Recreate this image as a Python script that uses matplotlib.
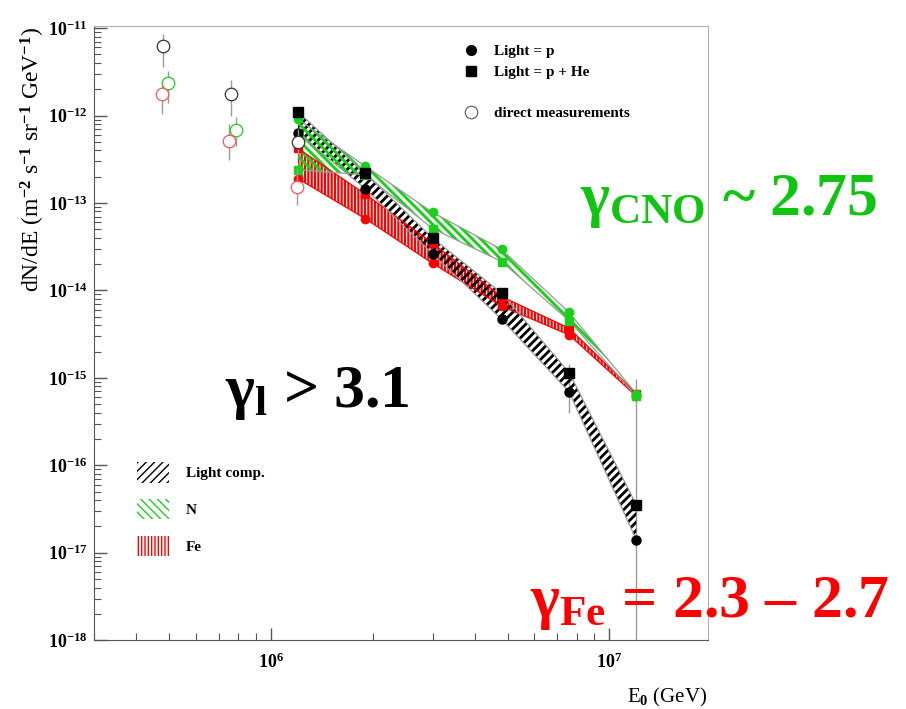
import matplotlib
matplotlib.use('Agg')
import matplotlib.pyplot as plt
from matplotlib.lines import Line2D
from matplotlib.patches import Patch
from matplotlib.ticker import FixedLocator, LogLocator, NullFormatter, FuncFormatter
import numpy as np

plt.rcParams.update({
    'font.family': 'Liberation Serif',
    'font.weight': 'bold',
    'mathtext.fontset': 'custom',
    'mathtext.rm': 'Liberation Serif:bold',
    'mathtext.it': 'Liberation Serif:bold',
    'mathtext.bf': 'Liberation Serif:bold',
})

# KASCADE unfolding results (GeV, m^-2 s^-1 sr^-1 GeV^-1)
energy = [1.2e6, 1.9e6, 3.0e6, 4.8e6, 7.6e6, 1.2e7]
light_pHe = [1.10e-12, 2.19e-13, 3.98e-14, 9.3e-15, 1.15e-15, 3.55e-17]
light_p = [6.3e-13, 1.45e-13, 2.63e-14, 4.68e-15, 6.9e-16, 1.41e-17]
n_upper = [9.1e-13, 2.63e-13, 7.8e-14, 2.95e-14, 5.6e-15, 6.6e-16]
n_lower = [2.4e-13, 2.09e-13, 5.1e-14, 2.14e-14, 4.5e-15, 6.2e-16]
fe_upper = [4.2e-13, 1.26e-13, 3.47e-14, 8.5e-15, 3.7e-15, 6.6e-16]
fe_lower = [1.9e-13, 6.6e-14, 2.04e-14, 6.6e-15, 3.1e-15, 6.2e-16]

# error bars on the light component at the highest energies
light_bar_e = [7.6e6, 1.2e7]
light_bar_hi = [1.45e-15, 9.8e-16]
light_bar_lo = [4.0e-16, 1e-19]

# direct measurements
direct_light_e = [4.8e5, 7.6e5, 1.2e6]
direct_light = [6.25e-12, 1.77e-12, 5.0e-13]
direct_light_lo = [3.6e-12, 1.0e-12, 3.6e-13]
direct_light_hi = [8.6e-12, 2.56e-12, 7.0e-13]
direct_n_e = [4.95e5, 7.85e5]
direct_n = [2.37e-12, 6.9e-13]
direct_n_lo = [1.4e-12, 4.5e-13]
direct_n_hi = [3.24e-12, 9.7e-13]
direct_fe_e = [4.75e5, 7.5e5, 1.19e6]
direct_fe = [1.77e-12, 5.16e-13, 1.54e-13]
direct_fe_lo = [1.05e-12, 3.14e-13, 9.6e-14]
direct_fe_hi = [2.43e-12, 7.9e-13, 2.5e-13]

# axis decades that get a label
x_decades = [1e6, 1e7]
y_decades = [1e-18, 1e-17, 1e-16, 1e-15, 1e-14, 1e-13, 1e-12, 1e-11]

GREEN = '#19d119'
RED = '#ff0000'
GRAY = '#9a9a9a'

HATCH_LIGHT = ('////', 2.0)
HATCH_N = ('\\\\\\\\', 2.1)
HATCH_FE = ('|||||', 1.6)


def errbars(ax, x, y, lo, hi, color, **kw):
    y = np.array(y)
    yerr = [y - np.array(lo), np.array(hi) - y]
    ax.errorbar(x, y, yerr=yerr, fmt='o', mfc='white', mec=color, ms=9, mew=0.9,
                ecolor=GRAY, elinewidth=1, capsize=0, **kw)


fig = plt.figure(figsize=(9.06, 7.09), dpi=100)
ax = fig.add_axes([0.104, 0.097, 0.677, 0.866])
ax.set_xscale('log')
ax.set_yscale('log')
ax.set_xlim(3e5, 1.95e7)
ax.set_ylim(1e-18, 1.05e-11)

# error bars (light component, highest energies)
ax.vlines(light_bar_e, light_bar_lo, light_bar_hi, color=GRAY, lw=1, zorder=1)

# bands
for lo, hi, c, (h, hw), z in [(fe_lower, fe_upper, RED, HATCH_FE, 2),
                              (light_p, light_pHe, 'black', HATCH_LIGHT, 3),
                              (n_lower, n_upper, GREEN, HATCH_N, 4)]:
    with plt.rc_context({'hatch.linewidth': hw}):
        ax.fill_between(energy, lo, hi, facecolor='none', edgecolor=c,
                        hatch=h, linewidth=0, zorder=z)
for lo, hi, c in [(fe_lower, fe_upper, RED), (light_p, light_pHe, GRAY), (n_lower, n_upper, GRAY)]:
    ax.plot(energy, lo, color=c, lw=0.9, zorder=5)
    ax.plot(energy, hi, color=c, lw=0.9, zorder=5)

# markers
ax.plot(energy, fe_upper, 's', color=RED, ms=6, zorder=6)
ax.plot(energy, fe_lower, 'o', color=RED, ms=6, zorder=6)
ax.plot(energy, n_upper, 'o', color=GREEN, ms=6, zorder=6)
ax.plot(energy, n_lower, 's', color=GREEN, ms=6, zorder=6)
ax.plot(energy, light_pHe, 's', color='black', ms=6.5, zorder=7)
ax.plot(energy, light_p, 'o', color='black', ms=6.5, zorder=7)

# direct measurements
errbars(ax, direct_light_e, direct_light, direct_light_lo, direct_light_hi, '#333333', zorder=8)
errbars(ax, direct_n_e, direct_n, direct_n_lo, direct_n_hi, GREEN, zorder=8)
errbars(ax, direct_fe_e, direct_fe, direct_fe_lo, direct_fe_hi, '#ff5555', zorder=8)

# axes styling
ax.tick_params(which='both', direction='in', top=False, right=False, labelsize=13)
ax.tick_params(which='major', length=9, width=1, color='#555555')
ax.tick_params(which='minor', length=5, width=0.8, color='#555555')
ax.tick_params(axis='y', pad=5)
ax.tick_params(axis='x', pad=9)
ax.xaxis.set_major_locator(FixedLocator(x_decades))
ax.yaxis.set_major_locator(FixedLocator(y_decades))
ax.yaxis.set_minor_locator(LogLocator(base=10, subs=np.arange(2, 10), numticks=20))
ax.yaxis.set_minor_formatter(NullFormatter())
ax.xaxis.set_minor_formatter(NullFormatter())
fmt = FuncFormatter(lambda v, p: r'$10^{%d}$' % round(np.log10(v)))
ax.xaxis.set_major_formatter(fmt)
ax.yaxis.set_major_formatter(fmt)
for s in ['left', 'bottom']:
    ax.spines[s].set_color('#555555')
for s in ['top', 'right']:
    ax.spines[s].set_color('#b0b0b0')

ax.set_ylabel(r'dN/dE (m$^{-2}$ s$^{-1}$ sr$^{-1}$ GeV$^{-1}$)', loc='top', fontsize=17)
ax.yaxis.set_label_coords(-0.077, 0.998)
ax.set_xlabel(r'E$_0$ (GeV)', loc='right', fontsize=15, labelpad=10)

# legends
leg1 = ax.legend(
    handles=[Line2D([], [], ls='', marker='o', color='black', ms=7),
             Line2D([], [], ls='', marker='s', color='black', ms=7),
             Line2D([], [], ls=''),
             Line2D([], [], ls='', marker='o', mfc='white', mec='#555555', ms=9, mew=0.8)],
    labels=['Light = p', 'Light = p + He', '', 'direct measurements'],
    loc='upper left', bbox_to_anchor=(0.595, 0.97), frameon=False, fontsize=11,
    borderpad=0, borderaxespad=0, handlelength=1.5, handletextpad=0.8, labelspacing=0.45)
ax.add_artist(leg1)

legend_patches = []
for c, (h, hw) in [('black', HATCH_LIGHT), (GREEN, HATCH_N), (RED, HATCH_FE)]:
    with plt.rc_context({'hatch.linewidth': hw}):
        legend_patches.append(Patch(facecolor='none', edgecolor=c, hatch=h, lw=0))
ax.legend(handles=legend_patches, labels=['Light comp.', 'N', 'Fe'],
          loc='upper left', bbox_to_anchor=(0.07, 0.29), frameon=False, fontsize=11,
          borderpad=0, borderaxespad=0, handlelength=2.1, handleheight=1.7,
          handletextpad=1.1, labelspacing=1.05)

# spectral index annotations
fig.text(0.640, 0.697, r'$\gamma_{\rm CNO}$ ~ 2.75', color='#11c411', fontsize=44.5,
         ha='left', va='baseline')
fig.text(0.248, 0.426, r'$\gamma_{\rm l}$ > 3.1', color='black', fontsize=44.5,
         ha='left', va='baseline')
fig.text(0.585, 0.130, r'$\gamma_{\rm Fe}$ = 2.3 – 2.7', color=RED, fontsize=44.5,
         ha='left', va='baseline')

fig.savefig('out.png', dpi=100)
